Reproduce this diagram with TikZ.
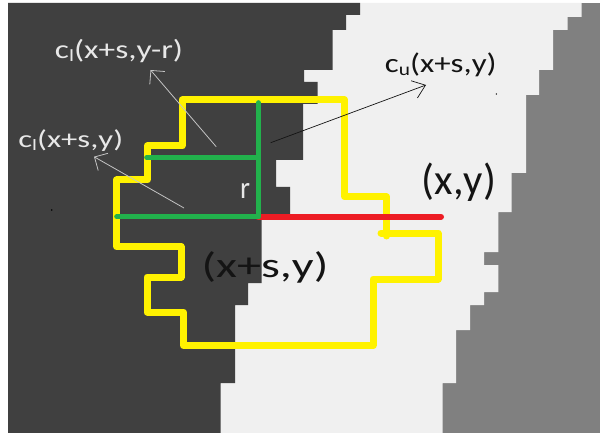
\documentclass[tikz,border=0pt]{standalone}
\usepackage{fontspec}
\setmainfont{Carlito}
\usetikzlibrary{arrows.meta}
\definecolor{darkreg}{HTML}{404040}
\definecolor{lightreg}{HTML}{F0F0F0}
\definecolor{grayreg}{HTML}{808080}
\definecolor{pyellow}{HTML}{FFF200}
\definecolor{pgreen}{HTML}{22B14C}
\definecolor{pred}{HTML}{ED1C24}
\definecolor{ltxt}{HTML}{E8E8E8}
\definecolor{dtxt}{HTML}{141414}
\definecolor{thinarrow}{HTML}{C4C4C4}
\newcommand\fitlab[3]{\resizebox*{#1}{#2}{#3}}
\newcommand\sublow[1]{\raisebox{-0.12em}{\scalebox{0.65}{#1}}}
\begin{document}
\begin{tikzpicture}[x=1pt,y=-1pt,
  lab/.style={inner sep=0pt, outer sep=0pt, anchor=center},
  brush/.style={line cap=round, line join=round},
  yellowbrush/.style={brush, draw=pyellow, line width=7pt},
  greenbrush/.style={brush, draw=pgreen, line width=5pt},
  redbrush/.style={brush, draw=pred, line width=6pt},
  lightarrow/.style={draw=thinarrow, line width=0.8pt, -{Straight Barb[angle=90:14pt]}},
  darkarrow/.style={draw=dtxt, line width=0.7pt, -{Straight Barb[angle=75:15pt]}}]
\useasboundingbox (0,0) rectangle (600,433);
\fill[white] (0,0) rectangle (600,433);
% regions
\fill[grayreg] (8,3) rectangle (600,433);
\fill[lightreg] (8,3) -- (581.7,3) -- (581.7,17) -- (567.7,17) -- (567.7,30) -- (553,30)
  -- (553,70) -- (539,70) -- (539,95) -- (526,95) -- (526,173) -- (511.7,173)
  -- (511.7,212) -- (498.3,212) -- (498.3,252) -- (484,252) -- (484,265) -- (498.3,265)
  -- (498.3,292) -- (484,292) -- (484,305) -- (470,305) -- (470,330) -- (456,330)
  -- (456,383) -- (442.7,383) -- (442.7,433) -- (8,433) -- cycle;
\fill[darkreg] (8,3) -- (360,3) -- (360,15) -- (346,15) -- (346,30) -- (332.7,30)
  -- (332.7,70) -- (304,70) -- (304,82) -- (317.7,82) -- (317.7,104) -- (303,104)
  -- (303,160) -- (276,160) -- (276,187) -- (290,187) -- (290,216) -- (261.7,216)
  -- (261.7,283) -- (248,283) -- (248,305) -- (235,305) -- (235,383) -- (220.7,383)
  -- (220.7,433) -- (8,433) -- cycle;
\fill[dtxt] (496.4,94) circle (0.8);
\fill[black] (51.7,210) circle (0.8);
% yellow outline
\draw[yellowbrush] (381,233) -- (438,233) -- (438,279) -- (373,279) -- (373,345.5)
  -- (183.5,345.5) -- (183.5,312) -- (147,312) -- (147,277) -- (181,277) -- (181,246.7)
  -- (116.7,246.7) -- (116.7,180) -- (147.3,180) -- (147.3,146) -- (182,146) -- (182,100)
  -- (344.5,100) -- (344.5,196.7) -- (386.5,196.7) -- (386.5,236);
% green and red
\coordinate (gtop) at (258.3,102.7);
\coordinate (gmid) at (258.3,157.3);
\coordinate (gbot) at (258.3,216.7);
\coordinate (gupl) at (146.7,157.3);
\coordinate (glowl) at (116.7,216.7);
\coordinate (redend) at (441,216.7);
\draw[redbrush] (gbot) -- (redend);
\draw[greenbrush] (gtop) -- (gbot);
\draw[greenbrush] (gupl) -- (gmid);
\draw[greenbrush] (glowl) -- (gbot);
% labels
\node[lab, text=ltxt] (lyr) at (119,51) {\fitlab{128pt}{23.4pt}{c\sublow{l}(x+s,y-r)}};
\node[lab, text=ltxt] (ly) at (70.8,140.8) {\fitlab{104.8pt}{21.7pt}{c\sublow{l}(x+s,y)}};
\node[lab, text=dtxt] (uy) at (440.8,64.4) {\fitlab{111.7pt}{24pt}{c\sublow{u}(x+s,y)}};
\node[lab, text=dtxt] (xy) at (458.8,182.3) {\fitlab{74.3pt}{38.5pt}{(x,y)}};
\node[lab, text=dtxt] (xsy) at (265,267.5) {\fitlab{126.7pt}{31.6pt}{(x+s,y)}};
\node[lab, text=ltxt] (rr) at (245,190.8) {\fitlab{10pt}{15pt}{r}};
% arrows
\coordinate (a1s) at (216.2,146.7);
\coordinate (a1e) at (150.5,70);
\coordinate (a2s) at (184,208);
\coordinate (a2e) at (94,156.7);
\coordinate (a3s) at (270.7,142.7);
\coordinate (a3e) at (426,85);
\draw[lightarrow] (a1s) -- (a1e);
\draw[lightarrow] (a2s) -- (a2e);
\draw[darkarrow] (a3s) -- (a3e);
\end{tikzpicture}
\end{document}
